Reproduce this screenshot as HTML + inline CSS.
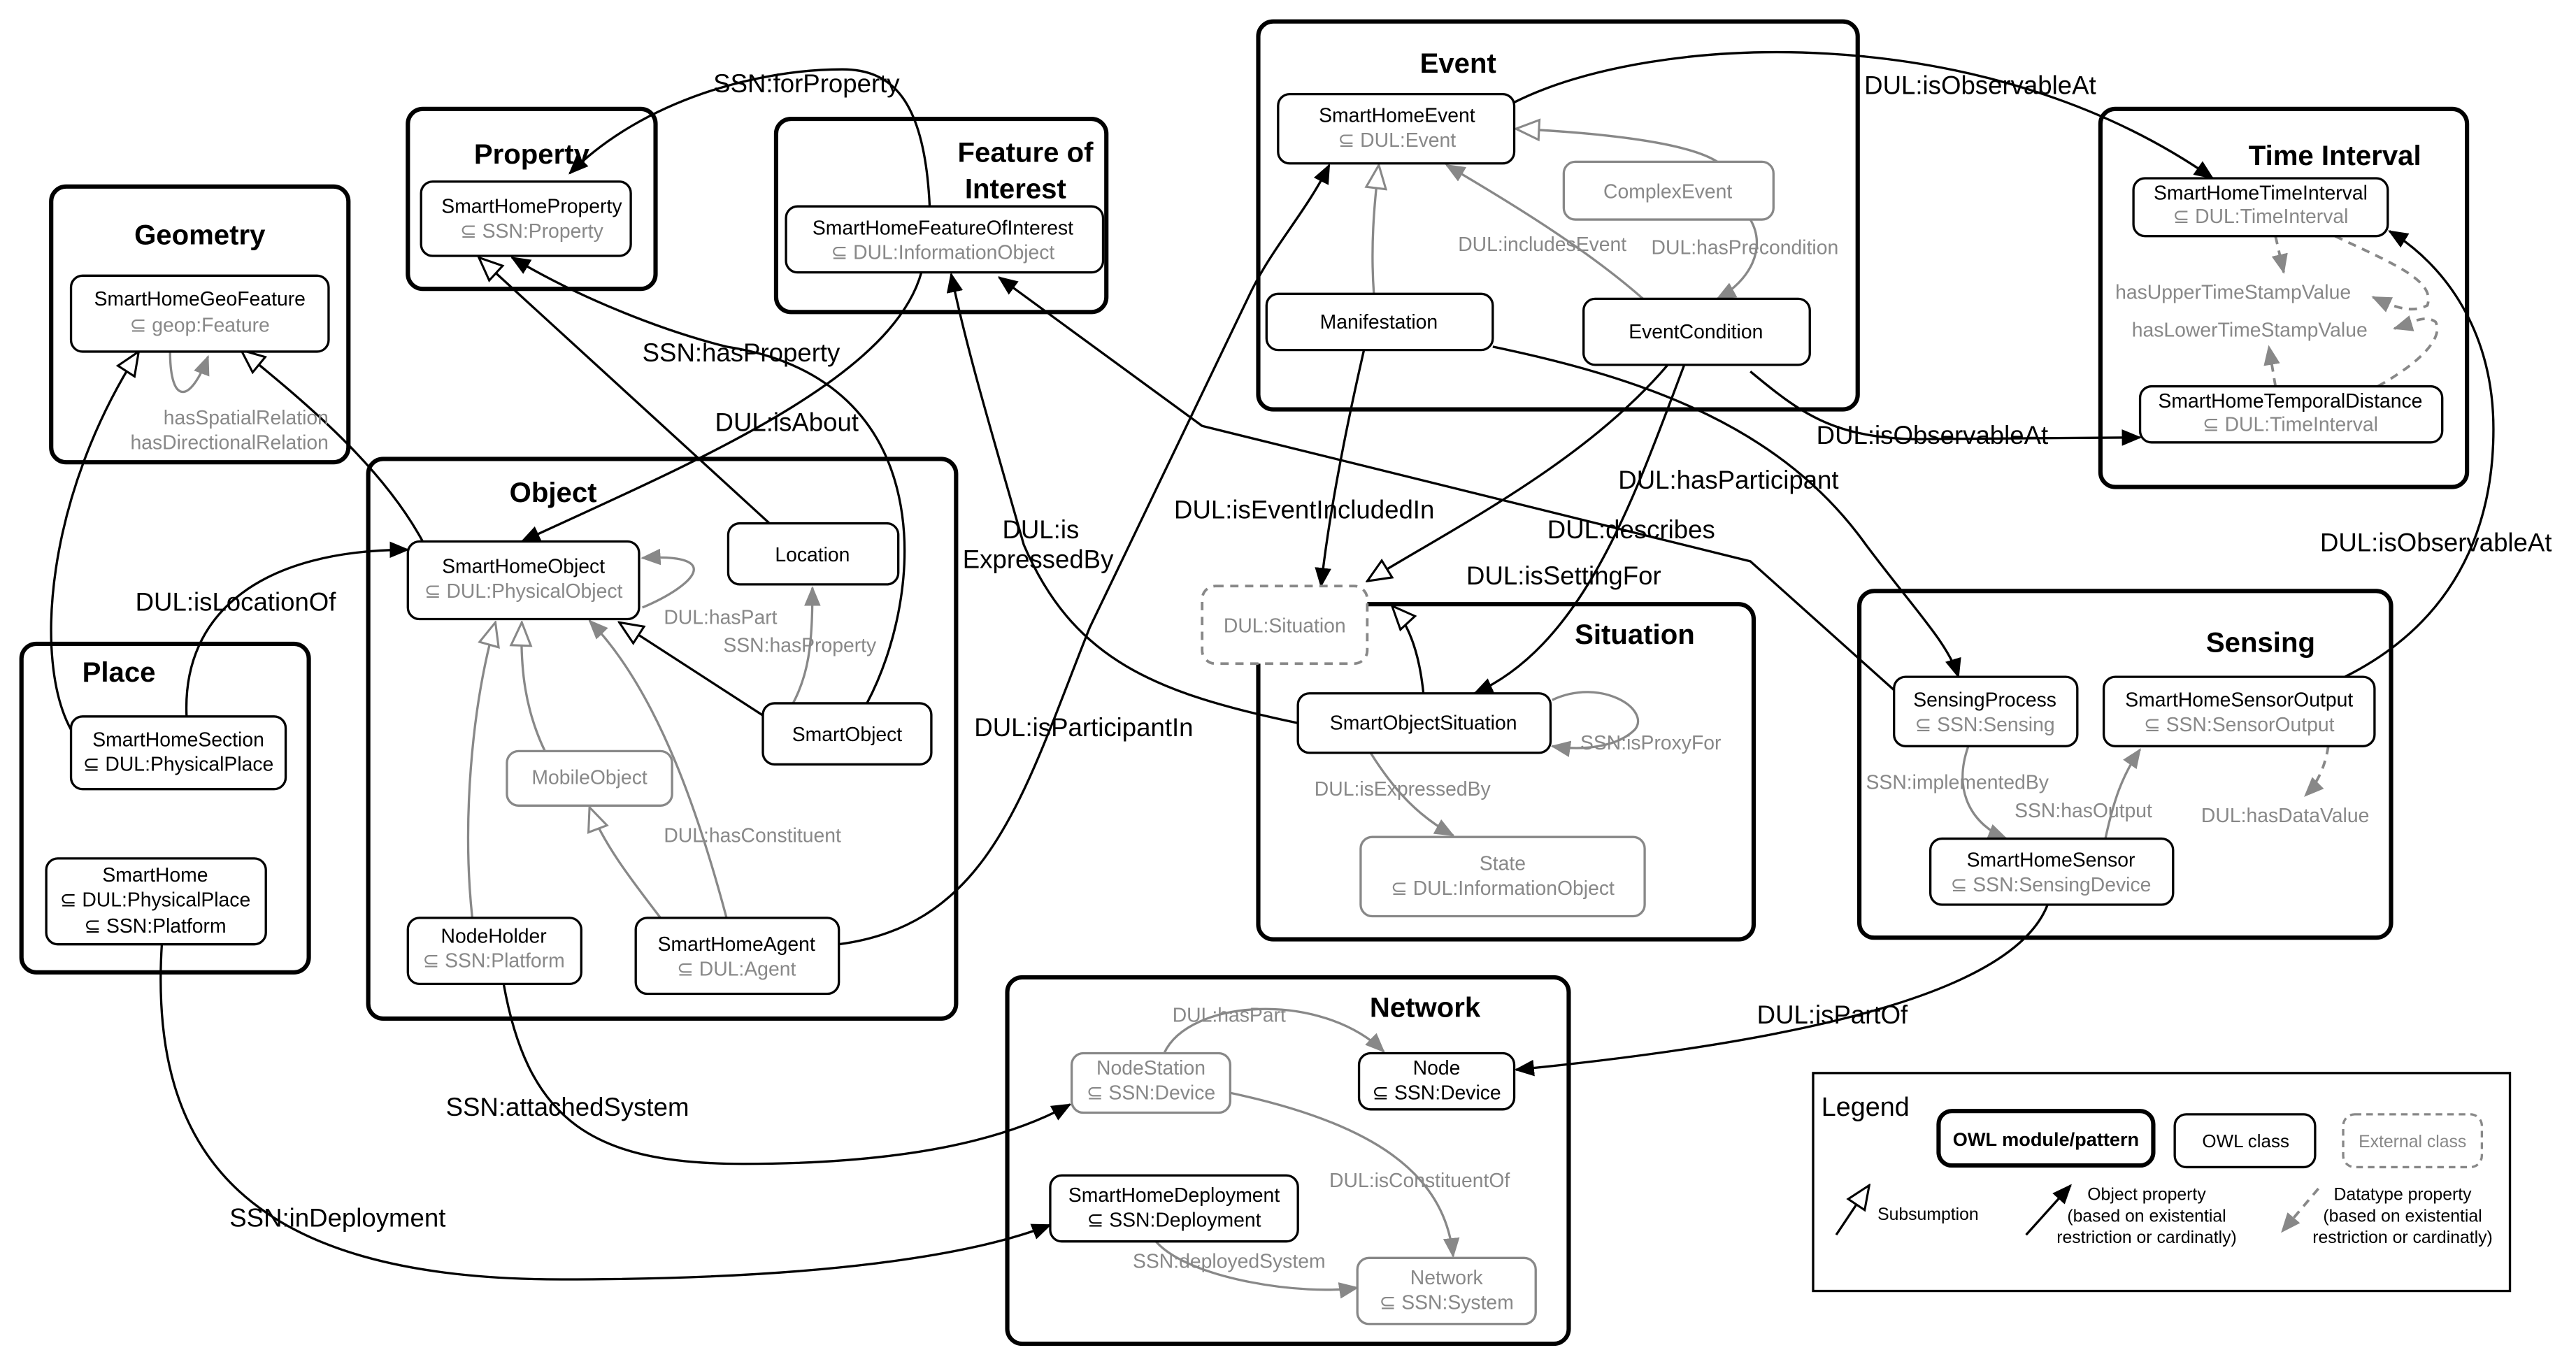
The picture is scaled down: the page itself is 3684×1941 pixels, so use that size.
<!DOCTYPE html>
<html><head><meta charset="utf-8"><style>
html,body{margin:0;padding:0;background:#fff;}
svg{display:block;}
text{font-family:"Liberation Sans",sans-serif;}
.m{fill:#fff;stroke:#000;stroke-width:2.6;}
.c{fill:#fff;stroke:#000;stroke-width:1.4;}
.g{fill:#fff;stroke:#888;stroke-width:1.4;}
.t{font-size:17px;font-weight:bold;text-anchor:middle;}
.n{font-size:12px;text-anchor:middle;fill:#000;}
.s{font-size:12px;text-anchor:middle;fill:#888;}
.l{font-size:15.5px;fill:#000;}
.gl{font-size:12px;fill:#888;}
.e{fill:none;stroke:#000;stroke-width:1.4;}
.eg{fill:none;stroke:#888;stroke-width:1.4;}
.ed{fill:none;stroke:#888;stroke-width:1.6;stroke-dasharray:5,4;}
</style></head><body>
<svg width="3684" height="1941" viewBox="0 0 1560 822" preserveAspectRatio="none" xmlns="http://www.w3.org/2000/svg">
<defs>
<marker id="a" viewBox="0 0 12 10" refX="11" refY="5" markerWidth="12" markerHeight="10" markerUnits="userSpaceOnUse" orient="auto"><path d="M0,0 L12,5 L0,10 z" fill="#000"/></marker>
<marker id="ag" viewBox="0 0 12 10" refX="11" refY="5" markerWidth="12" markerHeight="10" markerUnits="userSpaceOnUse" orient="auto"><path d="M0,0 L12,5 L0,10 z" fill="#888"/></marker>
<marker id="h" viewBox="0 0 16 14" refX="15" refY="7" markerWidth="16" markerHeight="14" markerUnits="userSpaceOnUse" orient="auto"><path d="M1,1 L15,7 L1,13 z" fill="#fff" stroke="#000" stroke-width="1.3"/></marker>
<marker id="hg" viewBox="0 0 16 14" refX="15" refY="7" markerWidth="16" markerHeight="14" markerUnits="userSpaceOnUse" orient="auto"><path d="M1,1 L15,7 L1,13 z" fill="#fff" stroke="#888" stroke-width="1.3"/></marker>
</defs>
<rect width="1560" height="822" fill="#fff"/>

<!-- Modules -->
<rect class="m" x="31" y="113" width="180" height="167" rx="9"/>
<text class="t" x="121" y="148">Geometry</text>
<rect class="m" x="247" y="66" width="150" height="109" rx="9"/>
<text class="t" x="322" y="99">Property</text>
<rect class="m" x="470" y="72" width="200" height="117" rx="9"/>
<text class="t" x="621" y="98">Feature of</text>
<text class="t" x="615" y="120">Interest</text>
<rect class="m" x="762" y="13" width="363" height="235" rx="9"/>
<text class="t" x="883" y="44">Event</text>
<rect class="m" x="1272" y="66" width="222" height="229" rx="9"/>
<text class="t" x="1414" y="100">Time Interval</text>
<rect class="m" x="223" y="278" width="356" height="339" rx="9"/>
<text class="t" x="335" y="304">Object</text>
<rect class="m" x="13" y="390" width="174" height="199" rx="9"/>
<text class="t" x="72" y="413">Place</text>
<rect class="m" x="762" y="366" width="300" height="203" rx="9"/>
<text class="t" x="990" y="390">Situation</text>
<rect class="m" x="1126" y="358" width="322" height="210" rx="9"/>
<text class="t" x="1369" y="395">Sensing</text>
<rect class="m" x="610" y="592" width="340" height="222" rx="9"/>
<text class="t" x="863" y="616">Network</text>

<!-- Edges -->
<path class="e" marker-end="url(#a)" d="M563,125 C560,60 540,42 510,42 C460,42 390,60 345,105"/>
<text class="l" x="432" y="56">SSN:forProperty</text>
<path class="e" marker-end="url(#h)" d="M43,442 C20,400 28,300 84,213"/>
<path class="e" marker-end="url(#h)" d="M256,328 C230,280 180,240 146,212"/>
<path class="eg" marker-end="url(#ag)" d="M103,213 C103,245 115,245 126,216"/>
<text class="gl" x="199" y="257" text-anchor="end">hasSpatialRelation</text>
<text class="gl" x="199" y="272" text-anchor="end">hasDirectionalRelation</text>
<path class="e" marker-end="url(#h)" d="M466,317 L290,156"/>
<path class="e" marker-end="url(#a)" d="M525,426 C560,360 570,230 440,210 C400,200 350,180 310,156"/>
<text class="l" x="389" y="219">SSN:hasProperty</text>
<path class="e" marker-end="url(#a)" d="M558,165 C540,230 420,280 316,328"/>
<text class="l" x="433" y="261">DUL:isAbout</text>
<path class="e" marker-end="url(#a)" d="M113,434 C110,370 160,333 247,333"/>
<text class="l" x="82" y="370">DUL:isLocationOf</text>
<path class="eg" marker-end="url(#ag)" d="M389,368 C420,355 440,335 389,338"/>
<text class="gl" x="402" y="378">DUL:hasPart</text>
<path class="eg" marker-end="url(#ag)" d="M478,430 C490,410 492,390 492,356"/>
<text class="gl" x="438" y="395">SSN:hasProperty</text>
<path class="e" marker-end="url(#h)" d="M463,434 L375,377"/>
<path class="eg" marker-end="url(#hg)" d="M330,455 C318,430 315,405 316,377"/>
<path class="eg" marker-end="url(#hg)" d="M286,556 C280,500 285,430 300,377"/>
<path class="eg" marker-end="url(#hg)" d="M400,556 C380,530 365,510 357,489"/>
<path class="eg" marker-end="url(#ag)" d="M440,556 C425,500 400,420 357,376"/>
<text class="gl" x="402" y="510">DUL:hasConstituent</text>
<path class="e" marker-end="url(#a)" d="M508,572 C600,560 620,480 660,380 L756,180 C770,150 790,130 805,100"/>
<text class="l" x="590" y="446">DUL:isParticipantIn</text>
<path class="e" marker-end="url(#a)" d="M786,438 C700,420 650,400 620,330 C600,260 585,210 576,166"/>
<text class="l" x="607" y="326">DUL:is</text>
<text class="l" x="583" y="344">ExpressedBy</text>
<path class="e" marker-end="url(#a)" d="M1147,418 L1060,340 L728,258 L605,168"/>
<path class="e" marker-end="url(#a)" d="M904,210 C1000,230 1080,260 1130,330 C1160,370 1180,390 1186,410"/>
<text class="l" x="980" y="296">DUL:hasParticipant</text>
<path class="eg" marker-end="url(#hg)" d="M1040,98 C1020,85 960,80 918,78"/>
<path class="eg" marker-end="url(#hg)" d="M832,178 C830,150 832,125 835,100"/>
<path class="eg" marker-end="url(#ag)" d="M995,181 C960,150 910,120 876,100"/>
<text class="gl" x="883" y="152">DUL:includesEvent</text>
<path class="eg" marker-end="url(#ag)" d="M1060,133 C1070,150 1060,170 1040,181"/>
<text class="gl" x="1000" y="154">DUL:hasPrecondition</text>
<path class="e" marker-end="url(#a)" d="M917,62 C1000,20 1200,10 1340,108"/>
<text class="l" x="1129" y="57">DUL:isObservableAt</text>
<path class="e" marker-end="url(#a)" d="M1060,225 C1090,250 1110,265 1160,266 L1296,265"/>
<text class="l" x="1100" y="269">DUL:isObservableAt</text>
<path class="e" marker-end="url(#a)" d="M1420,410 C1500,370 1510,300 1510,260 C1510,200 1480,160 1447,140"/>
<text class="l" x="1405" y="334">DUL:isObservableAt</text>
<path class="ed" marker-end="url(#ag)" d="M1378,143 L1383,165"/>
<path class="ed" marker-end="url(#ag)" d="M1414,143 C1450,160 1475,170 1470,185 C1460,190 1450,186 1437,180"/>
<path class="ed" marker-end="url(#ag)" d="M1440,234 C1465,220 1480,205 1475,195 C1468,190 1460,196 1450,199"/>
<path class="ed" marker-end="url(#ag)" d="M1378,234 L1374,210"/>
<text class="gl" x="1281" y="181">hasUpperTimeStampValue</text>
<text class="gl" x="1291" y="204">hasLowerTimeStampValue</text>
<path class="e" marker-end="url(#a)" d="M826,212 C815,260 805,310 800,355"/>
<text class="l" x="711" y="314">DUL:isEventIncludedIn</text>
<path class="e" marker-end="url(#h)" d="M1010,221 C960,280 880,320 828,352"/>
<text class="l" x="937" y="326">DUL:describes</text>
<path class="e" marker-end="url(#a)" d="M1020,221 C990,300 960,390 893,420"/>
<text class="l" x="888" y="354">DUL:isSettingFor</text>
<path class="e" marker-end="url(#h)" d="M862,420 C860,400 855,380 843,367"/>
<path class="eg" marker-end="url(#ag)" d="M940,424 C970,410 1000,430 990,442 C980,452 960,455 940,452"/>
<text class="gl" x="957" y="454">SSN:isProxyFor</text>
<path class="eg" marker-end="url(#ag)" d="M830,456 C845,480 860,495 880,506"/>
<text class="gl" x="796" y="482">DUL:isExpressedBy</text>
<path class="eg" marker-end="url(#ag)" d="M1192,452 C1182,480 1195,500 1215,508"/>
<text class="gl" x="1130" y="478">SSN:implementedBy</text>
<path class="eg" marker-end="url(#ag)" d="M1275,508 C1280,485 1285,470 1296,454"/>
<text class="gl" x="1220" y="495">SSN:hasOutput</text>
<path class="ed" marker-end="url(#ag)" d="M1410,452 C1408,465 1403,475 1396,482"/>
<text class="gl" x="1333" y="498">DUL:hasDataValue</text>
<path class="e" marker-end="url(#a)" d="M1240,548 C1220,600 1100,630 918,648"/>
<text class="l" x="1064" y="620">DUL:isPartOf</text>
<path class="eg" marker-end="url(#ag)" d="M705,638 C720,605 800,600 838,637"/>
<text class="gl" x="710" y="619">DUL:hasPart</text>
<path class="eg" marker-end="url(#ag)" d="M745,662 C830,680 875,710 880,761"/>
<text class="gl" x="805" y="719">DUL:isConstituentOf</text>
<path class="eg" marker-end="url(#ag)" d="M700,752 C720,775 790,785 822,780"/>
<text class="gl" x="686" y="768">SSN:deployedSystem</text>
<path class="e" marker-end="url(#a)" d="M305,596 C320,680 360,705 450,705 C550,705 610,690 648,669"/>
<text class="l" x="270" y="676">SSN:attachedSystem</text>
<path class="e" marker-end="url(#a)" d="M98,572 C90,700 150,775 340,775 C500,775 590,760 636,742"/>
<text class="l" x="139" y="743">SSN:inDeployment</text>

<!-- Classes -->
<rect class="c" x="43" y="167" width="156" height="46" rx="7"/>
<text class="n" x="121" y="185">SmartHomeGeoFeature</text><text class="s" x="121" y="201">⊆ geop:Feature</text>
<rect class="c" x="255" y="110" width="127" height="45" rx="7"/>
<text class="n" x="322" y="129">SmartHomeProperty</text><text class="s" x="322" y="144">⊆ SSN:Property</text>
<rect class="c" x="476" y="125" width="192" height="40" rx="7"/>
<text class="n" x="571" y="142">SmartHomeFeatureOfInterest</text><text class="s" x="571" y="157">⊆ DUL:InformationObject</text>
<rect class="c" x="774" y="57" width="143" height="42" rx="7"/>
<text class="n" x="846" y="74">SmartHomeEvent</text><text class="s" x="846" y="89">⊆ DUL:Event</text>
<rect class="g" x="947" y="98" width="127" height="35" rx="7"/>
<text class="s" x="1010" y="120">ComplexEvent</text>
<rect class="c" x="767" y="178" width="137" height="34" rx="7"/>
<text class="n" x="835" y="199">Manifestation</text>
<rect class="c" x="959" y="181" width="137" height="40" rx="7"/>
<text class="n" x="1027" y="205">EventCondition</text>
<rect class="c" x="1292" y="108" width="154" height="35" rx="7"/>
<text class="n" x="1369" y="121">SmartHomeTimeInterval</text><text class="s" x="1369" y="135">⊆ DUL:TimeInterval</text>
<rect class="c" x="1296" y="234" width="183" height="34" rx="7"/>
<text class="n" x="1387" y="247">SmartHomeTemporalDistance</text><text class="s" x="1387" y="261">⊆ DUL:TimeInterval</text>
<rect class="c" x="247" y="328" width="140" height="47" rx="7"/>
<text class="n" x="317" y="347">SmartHomeObject</text><text class="s" x="317" y="362">⊆ DUL:PhysicalObject</text>
<rect class="c" x="441" y="317" width="103" height="37" rx="7"/>
<text class="n" x="492" y="340">Location</text>
<rect class="c" x="462" y="426" width="102" height="37" rx="7"/>
<text class="n" x="513" y="449">SmartObject</text>
<rect class="g" x="307" y="455" width="100" height="33" rx="7"/>
<text class="s" x="357" y="475">MobileObject</text>
<rect class="c" x="247" y="556" width="105" height="40" rx="7"/>
<text class="n" x="299" y="571">NodeHolder</text><text class="s" x="299" y="586">⊆ SSN:Platform</text>
<rect class="c" x="385" y="556" width="123" height="46" rx="7"/>
<text class="n" x="446" y="576">SmartHomeAgent</text><text class="s" x="446" y="591">⊆ DUL:Agent</text>
<rect class="c" x="43" y="434" width="130" height="44" rx="7"/>
<text class="n" x="108" y="452">SmartHomeSection</text><text class="n" x="108" y="467">⊆ DUL:PhysicalPlace</text>
<rect class="c" x="28" y="520" width="133" height="52" rx="7"/>
<text class="n" x="94" y="534">SmartHome</text><text class="n" x="94" y="549">⊆ DUL:PhysicalPlace</text><text class="n" x="94" y="565">⊆ SSN:Platform</text>
<rect class="g" x="728" y="355" width="100" height="47" rx="8" style="stroke-dasharray:5,4;stroke-width:1.6"/>
<text class="s" x="778" y="383">DUL:Situation</text>
<rect class="c" x="786" y="420" width="153" height="36" rx="7"/>
<text class="n" x="862" y="442">SmartObjectSituation</text>
<rect class="g" x="824" y="507" width="172" height="48" rx="7"/>
<text class="s" x="910" y="527">State</text><text class="s" x="910" y="542">⊆ DUL:InformationObject</text>
<rect class="c" x="1147" y="410" width="111" height="42" rx="7"/>
<text class="n" x="1202" y="428">SensingProcess</text><text class="s" x="1202" y="443">⊆ SSN:Sensing</text>
<rect class="c" x="1274" y="410" width="164" height="42" rx="7"/>
<text class="n" x="1356" y="428">SmartHomeSensorOutput</text><text class="s" x="1356" y="443">⊆ SSN:SensorOutput</text>
<rect class="c" x="1169" y="508" width="147" height="40" rx="7"/>
<text class="n" x="1242" y="525">SmartHomeSensor</text><text class="s" x="1242" y="540">⊆ SSN:SensingDevice</text>
<rect class="g" x="649" y="638" width="96" height="36" rx="7"/>
<text class="s" x="697" y="651">NodeStation</text><text class="s" x="697" y="666">⊆ SSN:Device</text>
<rect class="c" x="823" y="638" width="94" height="34" rx="7"/>
<text class="n" x="870" y="651">Node</text><text class="n" x="870" y="666">⊆ SSN:Device</text>
<rect class="c" x="636" y="712" width="150" height="40" rx="7"/>
<text class="n" x="711" y="728">SmartHomeDeployment</text><text class="n" x="711" y="743">⊆ SSN:Deployment</text>
<rect class="g" x="822" y="762" width="108" height="40" rx="7"/>
<text class="s" x="876" y="778">Network</text><text class="s" x="876" y="793">⊆ SSN:System</text>

<!-- Legend -->
<rect x="1098" y="650" width="422" height="132" fill="#fff" stroke="#000" stroke-width="1.4"/>
<text x="1103" y="676" style="font-size:16px">Legend</text>
<rect class="m" x="1174" y="673" width="130" height="33" rx="8"/>
<text x="1239" y="694" style="font-size:11.5px;font-weight:bold;text-anchor:middle">OWL module/pattern</text>
<rect class="c" x="1317" y="675" width="85" height="32" rx="7"/>
<text class="n" x="1360" y="695" style="font-size:11px">OWL class</text>
<rect x="1419" y="675" width="84" height="32" rx="7" fill="#fff" stroke="#888" stroke-width="1.4" stroke-dasharray="4,3"/>
<text class="s" x="1461" y="695" style="font-size:10.5px">External class</text>
<path class="e" marker-end="url(#h)" d="M1112,748 L1132,718"/>
<text x="1137" y="739" style="font-size:10.5px">Subsumption</text>
<path class="e" marker-end="url(#a)" d="M1227,748 L1254,718"/>
<text x="1300" y="727" style="font-size:10.5px;text-anchor:middle">Object property</text>
<text x="1300" y="740" style="font-size:10.5px;text-anchor:middle">(based on existential</text>
<text x="1300" y="753" style="font-size:10.5px;text-anchor:middle">restriction or cardinatly)</text>
<path class="ed" marker-end="url(#ag)" d="M1404,720 L1382,746"/>
<text x="1455" y="727" style="font-size:10.5px;text-anchor:middle">Datatype property</text>
<text x="1455" y="740" style="font-size:10.5px;text-anchor:middle">(based on existential</text>
<text x="1455" y="753" style="font-size:10.5px;text-anchor:middle">restriction or cardinatly)</text>
</svg>
</body></html>
